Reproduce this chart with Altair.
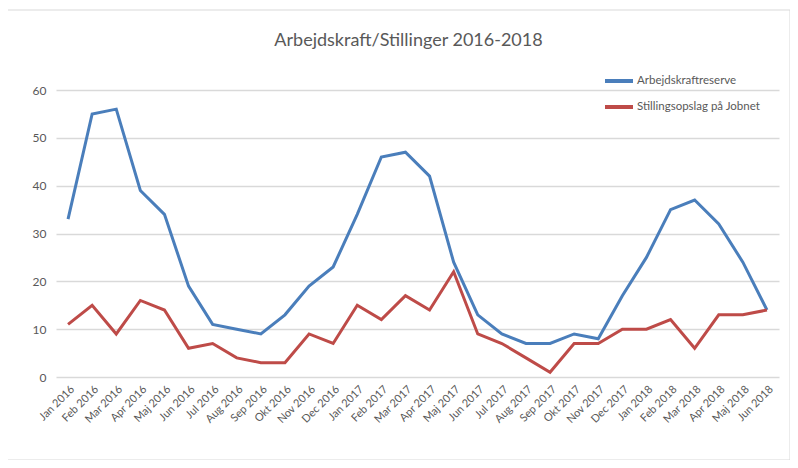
import altair as alt
import pandas as pd

months = ["Jan 2016", "Feb 2016", "Mar 2016", "Apr 2016", "Maj 2016", "Jun 2016",
          "Jul 2016", "Aug 2016", "Sep 2016", "Okt 2016", "Nov 2016", "Dec 2016",
          "Jan 2017", "Feb 2017", "Mar 2017", "Apr 2017", "Maj 2017", "Jun 2017",
          "Jul 2017", "Aug 2017", "Sep 2017", "Okt 2017", "Nov 2017", "Dec 2017",
          "Jan 2018", "Feb 2018", "Mar 2018", "Apr 2018", "Maj 2018", "Jun 2018"]
arbejdskraftreserve = [33, 55, 56, 39, 34, 19, 11, 10, 9, 13, 19, 23,
                       34, 46, 47, 42, 24, 13, 9, 7, 7, 9, 8, 17,
                       25, 35, 37, 32, 24, 14]
stillingsopslag = [11, 15, 9, 16, 14, 6, 7, 4, 3, 3, 9, 7,
                   15, 12, 17, 14, 22, 9, 7, 4, 1, 7, 7, 10,
                   10, 12, 6, 13, 13, 14]
series_names = ["Arbejdskraftreserve", "Stillingsopslag på Jobnet"]
series_colors = ["#4a7ebb", "#be4b48"]

rows = []
for m, a, s in zip(months, arbejdskraftreserve, stillingsopslag):
    rows.append({"Måned": m, "Serie": series_names[0], "Værdi": a})
    rows.append({"Måned": m, "Serie": series_names[1], "Værdi": s})
df = pd.DataFrame(rows)

FONT = "Lato"
GREY = "#595959"

lines = alt.Chart(df).mark_line(strokeWidth=3).encode(
    x=alt.X("Måned:N", sort=months, title=None,
            scale=alt.Scale(paddingOuter=0.5, paddingInner=1),
            axis=alt.Axis(labelAngle=-45, labelAlign="right", labelBaseline="top",
                          labelFontSize=11, labelColor=GREY, labelFont=FONT,
                          ticks=False, domain=False, grid=False, labelPadding=6)),
    y=alt.Y("Værdi:Q", title=None,
            scale=alt.Scale(domain=[0, 60], nice=False),
            axis=alt.Axis(values=[0, 10, 20, 30, 40, 50, 60], ticks=False, domain=False,
                          labelFontSize=12, labelColor=GREY, labelFont=FONT,
                          labelPadding=10, gridColor="#d9d9d9", gridWidth=1.3)),
    color=alt.Color("Serie:N", sort=series_names,
                    scale=alt.Scale(domain=series_names, range=series_colors),
                    legend=alt.Legend(title=None, orient="none", legendX=547, legendY=-25,
                                      symbolType="stroke", symbolStrokeWidth=4,
                                      symbolSize=784, labelFontSize=11.5,
                                      labelColor=GREY, labelFont=FONT,
                                      rowPadding=2, labelOffset=2)),
)

frame = alt.Chart(pd.DataFrame({"k": [0]})).mark_rect(
    fill="#ffffff", fillOpacity=0, stroke="#d9d9d9", strokeWidth=1
).encode(x=alt.value(-51), x2=alt.value(734), y=alt.value(-80), y2=alt.value(370))

chart = alt.layer(frame, lines).properties(
    width=723, height=287,
    autosize=alt.AutoSizeParams(type="none"),
    padding={"left": 48, "top": 82, "right": 11, "bottom": 83},
    title=alt.TitleParams("Arbejdskraft/Stillinger 2016-2018", fontSize=18,
                          font=FONT, fontWeight="normal", color=GREY,
                          anchor="middle", frame="group", offset=-40, dx=-9),
).configure_view(stroke=None)

chart.save("out.html", embed_options={"renderer": "svg", "actions": False})
